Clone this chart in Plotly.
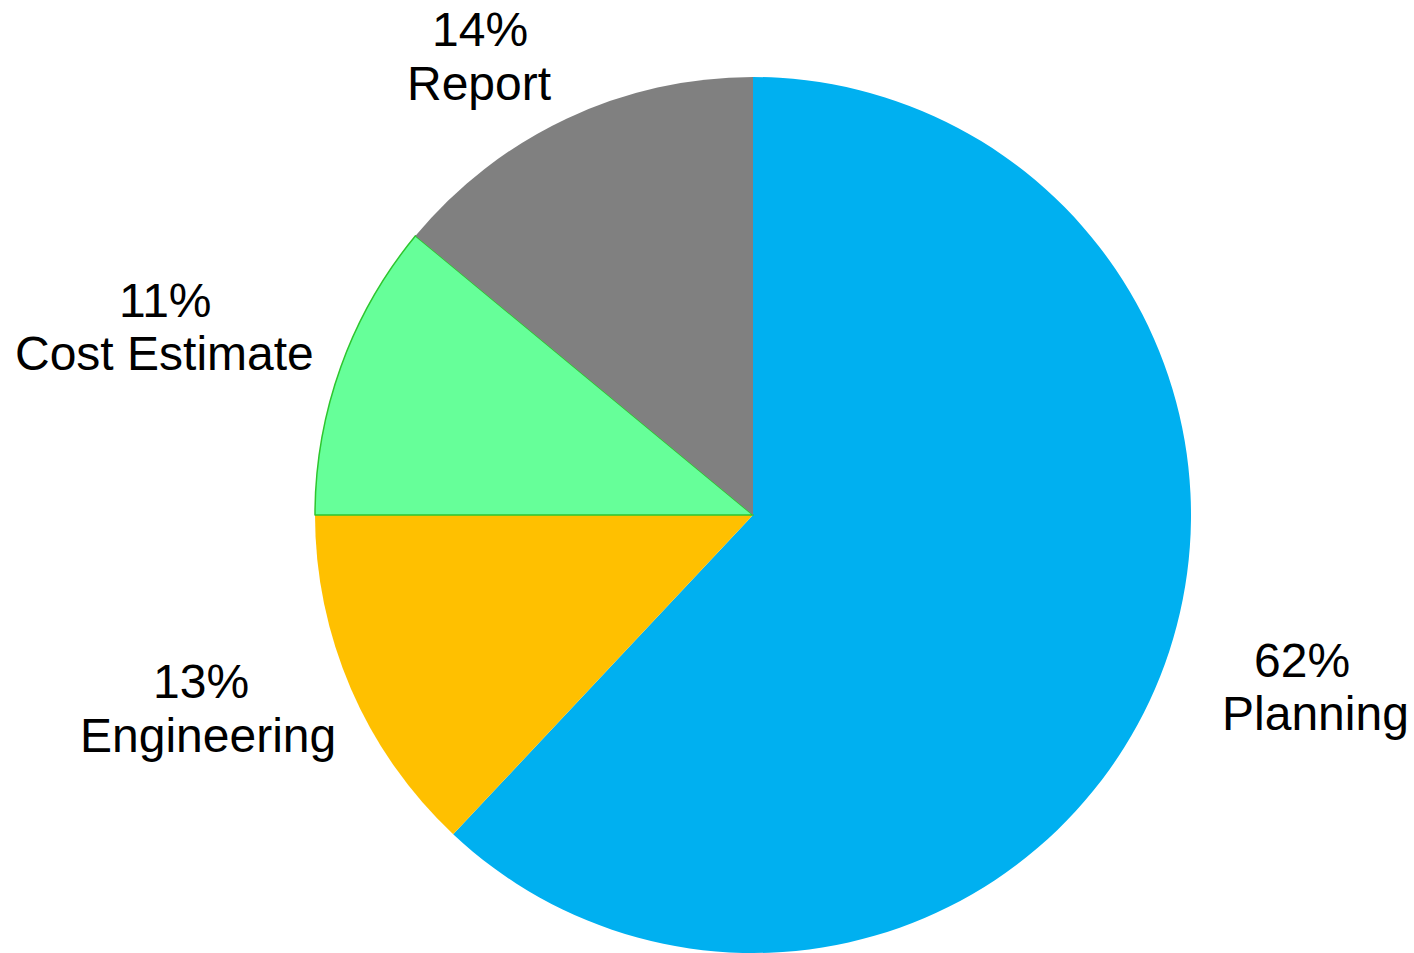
import plotly.graph_objects as go

# Data
categories = ["Planning", "Engineering", "Cost Estimate", "Report"]
values = [62, 13, 11, 14]
colors = ["#00B0F0", "#FFC000", "#66FF99", "#808080"]
border_colors = ["#00B0F0", "#FFC000", "#2EC62E", "#808080"]
border_widths = [0, 0, 1.5, 0]

# Label line centers in pixels (layout only): (percent line), (name line)
pct_px = [(1302, 660), (201, 681), (165, 301), (480, 29)]
name_px = [(1315, 713), (208, 735), (164, 354), (479, 83)]

W, H = 1414, 953
cx, cy, r = 753, 515, 438
FONT = dict(family="Liberation Sans, Arial, sans-serif", size=48, color="black")

fig = go.Figure(go.Pie(
    labels=categories,
    values=values,
    sort=False,
    direction="clockwise",
    rotation=0,
    marker=dict(colors=colors, line=dict(color=border_colors, width=border_widths)),
    textinfo="none",
    hoverinfo="label+percent",
    showlegend=False,
    domain=dict(x=[(cx - r) / W, (cx + r) / W], y=[(H - cy - r) / H, (H - cy + r) / H]),
))

total = sum(values)
annotations = []
for cat, v, (px1, py1), (px2, py2) in zip(categories, values, pct_px, name_px):
    annotations.append(dict(
        x=px1 / W, y=1 - py1 / H, xref="paper", yref="paper",
        text=f"{round(100 * v / total)}%",
        showarrow=False, xanchor="center", yanchor="middle", font=FONT,
    ))
    annotations.append(dict(
        x=px2 / W, y=1 - py2 / H, xref="paper", yref="paper",
        text=cat,
        showarrow=False, xanchor="center", yanchor="middle", font=FONT,
    ))

fig.update_layout(
    width=W, height=H,
    margin=dict(l=0, r=0, t=0, b=0),
    paper_bgcolor="white", plot_bgcolor="white",
    annotations=annotations,
)

fig.write_html("out.html", config={"displayModeBar": False},
               post_script="document.body.style.margin='0px';")
